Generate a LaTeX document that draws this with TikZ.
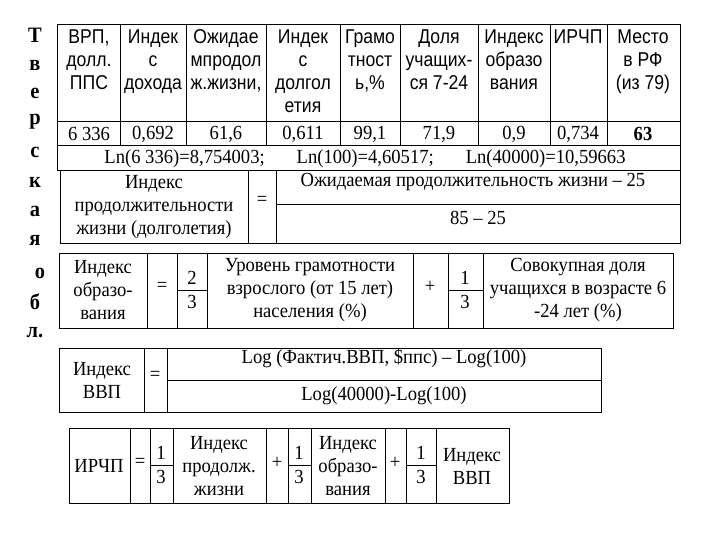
\documentclass[tikz,border=0pt]{standalone}
\usepackage{fontspec}
\setmainfont{Liberation Serif}[FakeStretch=0.93]
\newfontfamily\hsans{Liberation Sans}[FakeStretch=0.88]
\begin{document}
\begin{tikzpicture}[x=1pt,y=-1pt,line width=1pt,
  t/.style={inner sep=0pt,align=center,font=\fontsize{20}{23}\selectfont},
  h/.style={inner sep=0pt,align=center,font=\hsans\fontsize{20}{23}\selectfont},
  lt/.style={inner sep=0pt,font=\bfseries\fontsize{22}{24}\selectfont}]
\useasboundingbox (0,0) rectangle (720,540);
% side letters
\foreach \l/\y [count=\i] in {Т/35,в/65,е/93,р/122,с/152,к/182,а/211,я/240,б/302,л./333}
  \node[lt] (s\i) at (35,\y) {\l};
\node[lt] (s11) at (40,273) {о};
% top table
\draw (57,25) rectangle (680,171);
\draw (57,122) -- (680,122) (57,146) -- (680,146);
\foreach \x in {120,186,266,340,400,478,550,607} \draw (\x,25) -- (\x,146);
\node[h,anchor=north] (h1) at (89,29) {ВРП,\\долл.\\ППС};
\node[h,anchor=north] (h2) at (153,29) {Индек\\с\\дохода};
\node[h,anchor=north] (h3) at (226,29) {Ожидае\\мпродол\\ж.жизни,};
\node[h,anchor=north] (h4) at (303,29) {Индек\\с\\долгол\\етия};
\node[h,anchor=north] (h5) at (370,29) {Грамо\\тност\\ь,\%};
\node[h,anchor=north] (h6) at (439,29) {Доля\\учащих-\\ся 7-24};
\node[h,anchor=north] (h7) at (514,29) {Индекс\\образо\\вания};
\node[h,anchor=north] (h8) at (578,29) {ИРЧП};
\node[h,anchor=north] (h9) at (643,29) {Место\\в РФ\\(из 79)};
\foreach \x/\v [count=\i] in {89/6 336,153/{0,692},226/{61,6},303/{0,611},370/{99,1},439/{71,9},514/{0,9},578/{0,734},643/\textbf{63}}
  \node[t] (v\i) at (\x,134) {\v};
\node[t] (ln) at (365,159) {Ln(6 336)=8,754003;\hspace{1.6em}Ln(100)=4,60517;\hspace{1.6em}Ln(40000)=10,59663};
% longevity
\draw (60,171) rectangle (680,243);
\draw (248,171) -- (248,243) (276,171) -- (276,243) (276,205) -- (680,205);
\node[t] (l1) at (154,207) {Индекс\\продолжительности\\жизни (долголетия)};
\node[t] (l2) at (262,201) {=};
\node[t] (l3) at (473,182) {Ожидаемая продолжительность жизни -- 25};
\node[t] (l4) at (478,218) {85 -- 25};
% education
\draw (59,253) rectangle (673,328);
\foreach \x in {147,177,207,413,448,483} \draw (\x,253) -- (\x,328);
\draw (177,290) -- (207,290) (448,290) -- (483,290);
\node[t] (e1) at (103,290) {Индекс\\образо-\\вания};
\node[t] (e2) at (162,287) {=};
\node[t] (e3) at (192,278) {2};
\node[t] (e4) at (192,302) {3};
\node[t] (e5) at (310,290) {Уровень грамотности\\взрослого (от 15 лет)\\населения (\%)};
\node[t] (e6) at (430,287) {+};
\node[t] (e7) at (465,278) {1};
\node[t] (e8) at (465,302) {3};
\node[t] (e9) at (578,290) {Совокупная доля\\учащихся в возрасте 6\\-24 лет (\%)};
% GDP
\draw (59,348) rectangle (601,412);
\draw (144,348) -- (144,412) (167,348) -- (167,412) (167,380) -- (601,380);
\node[t] (g1) at (102,380) {Индекс\\ВВП};
\node[t] (g2) at (155,376) {=};
\node[t] (g3) at (384,358) {Log (Фактич.ВВП, \$ппс) -- Log(100)};
\node[t] (g4) at (384,396) {Log(40000)-Log(100)};
% HDI
\draw (69,428) rectangle (509,503);
\foreach \x in {130,150,173,266,288,311,385,406,436} \draw (\x,428) -- (\x,503);
\draw (150,465) -- (173,465) (288,465) -- (311,465) (406,465) -- (436,465);
\node[t] (r1) at (99,466) {ИРЧП};
\node[t] (r2) at (140,463) {=};
\node[t] (r3) at (161,453) {1}; \node[t] (r4) at (161,477) {3};
\node[t] (r5) at (219,466) {Индекс\\продолж.\\жизни};
\node[t] (r6) at (277,463) {+};
\node[t] (r7) at (299,453) {1}; \node[t] (r8) at (299,477) {3};
\node[t] (r9) at (348,466) {Индекс\\образо-\\вания};
\node[t] (r10) at (395,463) {+};
\node[t] (r11) at (421,453) {1}; \node[t] (r12) at (421,477) {3};
\node[t] (r13) at (472,466) {Индекс\\ВВП};
\end{tikzpicture}
\end{document}
